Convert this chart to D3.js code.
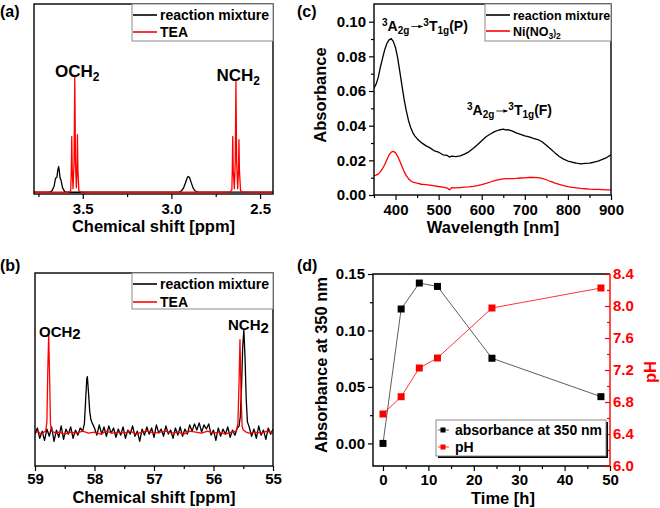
<!DOCTYPE html>
<meta charset="utf-8">
<style>
body { margin: 0; background: #fff; }
svg { font-family: "Liberation Sans", Arial, sans-serif; font-weight: bold; }
</style>
<body>
<svg width="660" height="508"></svg>
<script src="https://d3js.org/d3.v7.min.js"></script>
<script>

var svg = d3.select("svg");

// ---------------- data ----------------
// (a) 1H NMR, [ppm, intensity]
var hnmrTicks = [3.5, 3.0, 2.5];
var hnmrMinor = [3.75, 3.25, 2.75];
var hnmrMixture = [[3.775,0],[3.69,0],[3.675,0.01],[3.662,0.05],[3.655,0.11],[3.651,0.125],[3.646,0.13],[3.641,0.19],[3.636,0.223],[3.632,0.18],[3.628,0.125],[3.622,0.1],[3.614,0.04],[3.603,0.008],[3.59,0],
  [2.96,0],[2.945,0.01],[2.932,0.035],[2.921,0.08],[2.912,0.122],[2.905,0.137],[2.898,0.128],[2.889,0.088],[2.879,0.042],[2.868,0.013],[2.85,0.002],[2.427,0]];
var hnmrTEA = [[3.775,0],[3.6,0],[3.575,0.002],[3.568,0.012],[3.5645,0.2],[3.562,0.483],[3.5595,0.2],[3.555,0.03],[3.549,0.26],[3.545,1.0],[3.541,0.26],[3.536,0.04],[3.5325,0.2],[3.53,0.498],[3.5275,0.2],[3.522,0.012],[3.51,0.002],[3.45,0],
  [2.7,0],[2.668,0.003],[2.659,0.02],[2.6565,0.2],[2.654,0.483],[2.6515,0.2],[2.645,0.03],[2.64,0.26],[2.636,0.959],[2.632,0.26],[2.626,0.03],[2.6215,0.2],[2.619,0.455],[2.6165,0.2],[2.61,0.012],[2.598,0.002],[2.427,0]];

// (b) 13C NMR, [ppm, intensity]
var cnmrTicks = [59, 58, 57, 56, 55];
var cnmrMinor = [58.5, 57.5, 56.5, 55.5];
var cnmrMixture = [[59.00,-0.02],[58.96,0.04],[58.92,-0.06],[58.88,0.01],[58.84,-0.08],[58.80,0.03],[58.76,-0.04],[58.72,0.05],[58.68,-0.09],[58.64,0.02],[58.60,-0.05],[58.56,0.06],[58.52,-0.07],[58.48,0.03],[58.44,-0.02],[58.40,0.05],[58.36,-0.06],[58.32,0.02],[58.28,-0.03],[58.24,0.04],[58.20,0.01],[58.17,0.08],[58.15,0.30],[58.13,0.52],[58.12,0.54],[58.10,0.38],[58.08,0.20],[58.06,0.12],[58.04,0.09],[58.00,0.04],
  [57.96,-0.03],[57.92,0.07],[57.88,-0.02],[57.84,0.05],[57.80,-0.04],[57.76,0.06],[57.72,-0.01],[57.68,0.04],[57.64,-0.05],[57.60,0.03],[57.56,-0.03],[57.52,0.05],[57.48,-0.06],[57.44,0.02],[57.40,-0.02],[57.36,0.06],[57.32,-0.04],[57.28,0.01],[57.24,-0.09],[57.20,0.03],[57.16,-0.03],[57.12,0.05],[57.08,-0.02],[57.04,0.04],[57.00,-0.05],
  [56.96,0.07],[56.92,-0.01],[56.88,0.03],[56.84,-0.04],[56.80,0.06],[56.76,-0.02],[56.72,0.02],[56.68,-0.06],[56.64,0.04],[56.60,-0.03],[56.56,0.05],[56.52,-0.04],[56.48,0.03],[56.44,-0.02],[56.40,0.07],[56.36,0.01],[56.32,0.08],[56.28,0.02],[56.24,0.09],[56.20,0.00],[56.16,0.07],[56.12,0.03],[56.08,0.08],[56.04,-0.03],[56.00,0.02],
  [55.96,-0.08],[55.92,0.04],[55.88,-0.04],[55.84,0.03],[55.80,-0.02],[55.76,0.05],[55.72,-0.05],[55.68,0.02],[55.64,-0.03],[55.60,0.04],[55.57,0.06],[55.55,0.15],[55.53,0.42],[55.51,0.82],[55.49,1.00],[55.47,0.72],[55.45,0.32],[55.43,0.10],[55.40,0.05],[55.36,-0.04],[55.32,0.03],[55.28,-0.06],[55.24,0.06],[55.20,-0.03],[55.16,0.02],[55.12,-0.07],[55.08,0.04],[55.04,-0.02],[55.00,0.03]];
var cnmrTEA = [[59.00,-0.01],[58.95,0.01],[58.90,-0.02],[58.85,0.00],[58.82,0.01],[58.80,0.10],[58.785,0.60],[58.77,0.95],[58.755,0.55],[58.74,0.08],[58.72,0.01],[58.65,-0.01],[58.60,0.00],[58.50,-0.02],[58.40,0.00],[58.30,-0.01],[58.20,0.01],[58.10,-0.01],[58.00,0.00],[57.90,-0.02],[57.80,0.01],[57.70,-0.01],[57.60,0.00],[57.50,-0.01],[57.40,0.01],[57.30,-0.02],[57.20,0.00],[57.10,0.01],[57.00,-0.01],[56.90,0.00],[56.80,0.01],[56.70,-0.01],[56.60,0.00],[56.50,-0.02],[56.40,0.01],[56.30,0.00],[56.20,-0.01],[56.10,0.01],[56.00,-0.01],[55.90,0.00],[55.80,-0.02],[55.70,0.00],[55.62,0.01],[55.59,0.08],[55.57,0.50],[55.555,0.90],[55.54,0.45],[55.52,0.06],[55.50,0.02],[55.45,0.00],[55.40,-0.01],[55.30,0.00],[55.20,-0.01],[55.10,0.01],[55.00,-0.01]];

// (c) UV-vis, [nm, absorbance]
var uvTicksX = [400, 500, 600, 700, 800, 900];
var uvMinorX = [350, 450, 550, 650, 750, 850];
var uvTicksY = [0, 0.02, 0.04, 0.06, 0.08, 0.10];
var uvMinorY = [0.01, 0.03, 0.05, 0.07, 0.09];
var uvMixture = [[350,0.0616],[355,0.064],[360,0.068],[365,0.074],[370,0.079],[375,0.084],[380,0.0875],[385,0.0895],[390,0.0902],[395,0.0885],[400,0.085],[405,0.079],[410,0.071],[415,0.063],[420,0.055],[425,0.0485],[430,0.043],[435,0.039],[440,0.036],[445,0.034],[450,0.0325],[460,0.0302],[470,0.0285],[480,0.0272],[490,0.0255],[500,0.0247],[510,0.0232],[520,0.0228],[525,0.0219],[530,0.0224],[540,0.0221],[550,0.0226],[560,0.0236],[570,0.0249],[580,0.0268],[590,0.029],[600,0.0313],[610,0.0336],[620,0.0352],[630,0.0366],[640,0.0375],[650,0.0380],[655,0.0376],[660,0.0377],[670,0.037],[680,0.0358],[690,0.0350],[700,0.0341],[710,0.0335],[720,0.0327],[730,0.0320],[740,0.0307],[750,0.0287],[760,0.0265],[770,0.0243],[780,0.0222],[790,0.0207],[800,0.0196],[810,0.0189],[820,0.0184],[830,0.0180],[840,0.0182],[850,0.0184],[860,0.0189],[870,0.0196],[880,0.0205],[890,0.0216],[900,0.0232]];
var uvNickel = [[350,0.0112],[355,0.0115],[360,0.0122],[365,0.0135],[370,0.0153],[375,0.0176],[380,0.0205],[385,0.0231],[390,0.0248],[395,0.0252],[400,0.0243],[405,0.0222],[410,0.0195],[415,0.0165],[420,0.0135],[425,0.0112],[430,0.0094],[435,0.0082],[440,0.0075],[450,0.0068],[460,0.0062],[470,0.006],[480,0.0057],[490,0.0053],[500,0.0049],[510,0.0046],[520,0.0040],[525,0.0030],[530,0.0042],[540,0.0041],[550,0.0043],[560,0.0045],[570,0.0047],[580,0.0050],[590,0.0054],[600,0.006],[610,0.0067],[620,0.0075],[630,0.0083],[640,0.0089],[650,0.0093],[660,0.0094],[670,0.0095],[680,0.0096],[690,0.0098],[700,0.0099],[710,0.0101],[720,0.0101],[730,0.0100],[740,0.0096],[750,0.0088],[760,0.0078],[770,0.0069],[780,0.0061],[790,0.0054],[800,0.0048],[810,0.0044],[820,0.0041],[830,0.0038],[840,0.0036],[850,0.0034],[860,0.0033],[870,0.0032],[880,0.0031],[890,0.003],[900,0.003]];

// (d) kinetics
var timeH = [0, 4, 8, 12, 24, 48];
var abs350 = [0.000, 0.119, 0.142, 0.139, 0.0754, 0.0414];
var pHvalues = [6.65, 6.866, 7.225, 7.35, 7.975, 8.225];
var timeTicks = [0, 10, 20, 30, 40, 50];
var timeMinor = [5, 15, 25, 35, 45];
var absTicks = [0, 0.05, 0.10, 0.15];
var absMinor = [0.025, 0.075, 0.125];
var pHTicks = [6.0, 6.4, 6.8, 7.2, 7.6, 8.0, 8.4];
var pHMinor = [6.2, 6.6, 7.0, 7.4, 7.8, 8.2];

// ---------------- helpers ----------------
var boxA = {l: 34, t: 4, r: 273, b: 194},
    boxB = {l: 35, t: 273, r: 273, b: 466},
    boxC = {l: 374, t: 4, r: 611, b: 195},
    boxD = {l: 373, t: 274, r: 610, b: 466};

function styleAxis(g, color) {
  g.select(".domain").remove();
  g.attr("font-family", null).attr("font-size", null);
  g.selectAll(".tick line").attr("stroke", color).attr("stroke-width", 1.2);
  g.selectAll(".tick text").attr("fill", color).style("font-size", "15px").style("font-weight", "bold");
}

function xAxis(box, x, major, minor, fmt, pad) {
  var g1 = svg.append("g").attr("transform", "translate(0," + box.b + ")")
      .call(d3.axisBottom(x).tickValues(minor).tickSize(3).tickFormat(""));
  styleAxis(g1, "#000");
  var g2 = svg.append("g").attr("transform", "translate(0," + box.b + ")")
      .call(d3.axisBottom(x).tickValues(major).tickSize(5).tickPadding(pad).tickFormat(fmt));
  styleAxis(g2, "#000");
}

function yAxis(xpos, y, major, minor, fmt, right, color) {
  var mk = right ? d3.axisRight : d3.axisLeft;
  // right-hand axis keeps its ticks inside the frame
  var g1 = svg.append("g").attr("transform", "translate(" + xpos + ",0)")
      .call(mk(y).tickValues(minor).tickSize(right ? -3 : 3).tickFormat(""));
  styleAxis(g1, color);
  var g2 = svg.append("g").attr("transform", "translate(" + xpos + ",0)")
      .call(mk(y).tickValues(major).tickSize(right ? -5 : 5).tickPadding(3).tickFormat(fmt));
  styleAxis(g2, color);
}

function frame(box) {
  svg.append("rect")
    .attr("x", box.l).attr("y", box.t)
    .attr("width", box.r - box.l).attr("height", box.b - box.t)
    .attr("fill", "none").attr("stroke", "#000").attr("stroke-width", 1.4);
}

function clip(id, box) {
  svg.append("clipPath").attr("id", id).append("rect")
    .attr("x", box.l).attr("y", box.t).attr("width", box.r - box.l).attr("height", box.b - box.t);
}

function curve(data, x, y, color, w, clipId) {
  svg.append("path")
    .datum(data)
    .attr("clip-path", "url(#" + clipId + ")")
    .attr("fill", "none")
    .attr("stroke", color)
    .attr("stroke-width", w)
    .attr("stroke-linejoin", "round")
    .attr("d", d3.line().x(function(d) { return x(d[0]); }).y(function(d) { return y(d[1]); }));
}

function label(x, y, txt, size, anchor, rotate, color) {
  var t = svg.append("text")
    .attr("transform", "translate(" + x + "," + y + ")" + (rotate ? " rotate(" + rotate + ")" : ""))
    .attr("text-anchor", anchor || "start")
    .style("font-size", size + "px")
    .attr("fill", color || "#000")
    .text(txt);
  return t;
}

function lineLegend(x0, y0, w, h, rows, size, gap) {
  svg.append("rect").attr("x", x0).attr("y", y0).attr("width", w).attr("height", h)
    .attr("fill", "#fff").attr("stroke", "#8a8a8a").attr("stroke-width", 1);
  rows.forEach(function(r, i) {
    var yy = y0 + 11 + i * gap;
    svg.append("line").attr("x1", x0 + 1).attr("x2", x0 + 25).attr("y1", yy).attr("y2", yy)
      .attr("stroke", r.color).attr("stroke-width", 1.6);
    var t = svg.append("text").attr("x", x0 + 28).attr("y", yy + size * 0.36)
      .style("font-size", size + "px");
    r.parts.forEach(function(p) {
      var s = t.append("tspan").text(p[0]);
      if (p[1]) s.style("font-size", (size * 0.68) + "px").attr("dy", p[1]);
    });
  });
}

// ---------------- panel (a) ----------------
var xa = d3.scaleLinear().domain([3.775, 2.427]).range([boxA.l, boxA.r]);
var ya = d3.scaleLinear().domain([-0.015, 1.63]).range([boxA.b, boxA.t]);
clip("clipA", boxA);
curve(hnmrMixture, xa, ya, "#000", 1.3, "clipA");
curve(hnmrTEA, xa, ya, "#ff0000", 1.3, "clipA");
frame(boxA);
xAxis(boxA, xa, hnmrTicks, hnmrMinor, d3.format(".1f"), 4);
lineLegend(132, boxA.t, 141, 37, [
  {color: "#000", parts: [["reaction mixture"]]},
  {color: "#ff0000", parts: [["TEA"]]}], 14, 17);
var oa = label(55, 77, "OCH", 17);
oa.append("tspan").attr("dy", 4).style("font-size", "12px").text("2");
var na = label(216.5, 81, "NCH", 17);
na.append("tspan").attr("dy", 4).style("font-size", "12px").text("2");
label(153.5, 232, "Chemical shift [ppm]", 16.5, "middle");
label(0, 17, "(a)", 16);

// ---------------- panel (b) ----------------
var xb = d3.scaleLinear().domain([59, 55]).range([boxB.l, boxB.r]);
var yb = d3.scaleLinear().domain([-0.33, 1.55]).range([boxB.b, boxB.t]);
clip("clipB", boxB);
curve(cnmrMixture, xb, yb, "#000", 1.3, "clipB");
curve(cnmrTEA, xb, yb, "#ff0000", 1.3, "clipB");
frame(boxB);
xAxis(boxB, xb, cnmrTicks, cnmrMinor, d3.format("d"), 2);
lineLegend(132, boxB.t, 141, 36, [
  {color: "#000", parts: [["reaction mixture"]]},
  {color: "#ff0000", parts: [["TEA"]]}], 14, 18);
var ob = label(39, 336.5, "OCH", 15);
ob.append("tspan").attr("dy", 2.5).text("2");
var nb = label(228, 330, "NCH", 15);
nb.append("tspan").attr("dy", 2.5).text("2");
label(154, 503, "Chemical shift [ppm]", 16.5, "middle");
label(0, 271, "(b)", 16);

// ---------------- panel (c) ----------------
var xc = d3.scaleLinear().domain([350, 900]).range([boxC.l, boxC.r]);
var yc = d3.scaleLinear().domain([0, 0.1102]).range([boxC.b, boxC.t]);
clip("clipC", boxC);
curve(uvMixture, xc, yc, "#000", 1.3, "clipC");
curve(uvNickel, xc, yc, "#ff0000", 1.3, "clipC");
frame(boxC);
xAxis(boxC, xc, uvTicksX, uvMinorX, d3.format("d"), 4);
yAxis(boxC.l, yc, uvTicksY, uvMinorY, d3.format(".2f"), false, "#000");
lineLegend(485, boxC.t, 126, 37, [
  {color: "#000", parts: [["reaction mixture"]]},
  {color: "#ff0000", parts: [["Ni(NO"], ["3", 3], [")", -3], ["2", 3]]}], 12.5, 16);

svg.append("defs").append("marker")
  .attr("id", "arrowHead").attr("viewBox", "0 0 6 6").attr("refX", 5).attr("refY", 3)
  .attr("markerWidth", 6).attr("markerHeight", 6).attr("orient", "auto")
  .append("path").attr("d", "M0,0.8L6,3L0,5.2Z").attr("fill", "#000");

function transition(x0, base, state) {
  var t1 = svg.append("text").attr("x", x0).attr("y", base).style("font-size", "14px");
  t1.append("tspan").attr("dy", -5).style("font-size", "10px").text("3");
  t1.append("tspan").attr("dy", 5).text("A");
  t1.append("tspan").attr("dy", 3).style("font-size", "10px").text("2g");
  var w1 = t1.node().getComputedTextLength();
  var ax0 = x0 + w1 + 2, ax1 = ax0 + 11;
  svg.append("line").attr("x1", ax0).attr("x2", ax1).attr("y1", base - 4).attr("y2", base - 4)
    .attr("stroke", "#000").attr("stroke-width", 0.8).attr("marker-end", "url(#arrowHead)");
  var t2 = svg.append("text").attr("x", ax1 + 1).attr("y", base).style("font-size", "14px");
  t2.append("tspan").attr("dy", -5).style("font-size", "10px").text("3");
  t2.append("tspan").attr("dy", 5).text("T");
  t2.append("tspan").attr("dy", 3).style("font-size", "10px").text("1g");
  t2.append("tspan").attr("dy", -3).text("(" + state + ")");
}
transition(382, 30.5, "P");
transition(467, 115, "F");

label(326, 95, "Absorbance", 16.5, "middle", -90);
label(493, 233, "Wavelength [nm]", 16.5, "middle");
label(297, 17, "(c)", 16);

// ---------------- panel (d) ----------------
var xd = d3.scaleLinear().domain([-2.2, 50]).range([boxD.l, boxD.r]);
var yd = d3.scaleLinear().domain([-0.02, 0.15]).range([boxD.b, boxD.t]);
var yp = d3.scaleLinear().domain([6.0, 8.4]).range([boxD.b, boxD.t]);

var absPts = timeH.map(function(t, i) { return [t, abs350[i]]; });
var pHPts = timeH.map(function(t, i) { return [t, pHvalues[i]]; });

svg.append("path").datum(absPts).attr("fill", "none").attr("stroke", "#333").attr("stroke-width", 0.8)
  .attr("d", d3.line().x(function(d) { return xd(d[0]); }).y(function(d) { return yd(d[1]); }));
svg.append("path").datum(pHPts).attr("fill", "none").attr("stroke", "#ff0000").attr("stroke-width", 0.8)
  .attr("d", d3.line().x(function(d) { return xd(d[0]); }).y(function(d) { return yp(d[1]); }));
svg.selectAll(".absSq").data(absPts).enter().append("rect")
  .attr("x", function(d) { return xd(d[0]) - 3.5; }).attr("y", function(d) { return yd(d[1]) - 3.5; })
  .attr("width", 7).attr("height", 7).attr("fill", "#000");
svg.selectAll(".pHSq").data(pHPts).enter().append("rect")
  .attr("x", function(d) { return xd(d[0]) - 3.5; }).attr("y", function(d) { return yp(d[1]) - 3.5; })
  .attr("width", 7).attr("height", 7).attr("fill", "#ff0000");

// frame: black left/top/bottom, red right
svg.append("path").attr("d", "M" + boxD.r + "," + boxD.t + "H" + boxD.l + "V" + boxD.b + "H" + boxD.r)
  .attr("fill", "none").attr("stroke", "#000").attr("stroke-width", 1.4);
svg.append("line").attr("x1", boxD.r).attr("x2", boxD.r).attr("y1", boxD.t).attr("y2", boxD.b)
  .attr("stroke", "#ff0000").attr("stroke-width", 1.4);

xAxis(boxD, xd, timeTicks, timeMinor, d3.format("d"), 3);
yAxis(boxD.l, yd, absTicks, absMinor, d3.format(".2f"), false, "#000");
yAxis(boxD.r, yp, pHTicks, pHMinor, d3.format(".1f"), true, "#ff0000");

// legend with shadow
svg.append("rect").attr("x", 438).attr("y", 422).attr("width", 170).attr("height", 36).attr("fill", "#000");
svg.append("rect").attr("x", 436).attr("y", 420).attr("width", 170).attr("height", 36)
  .attr("fill", "#fff").attr("stroke", "#8a8a8a").attr("stroke-width", 1);
[["absorbance at 350 nm", "#000", "#333", 430], ["pH", "#ff0000", "#ff0000", 447]].forEach(function(r) {
  svg.append("line").attr("x1", 438).attr("x2", 449).attr("y1", r[3]).attr("y2", r[3])
    .attr("stroke", r[2]).attr("stroke-width", 0.8);
  svg.append("rect").attr("x", 440.5).attr("y", r[3] - 2.5).attr("width", 5).attr("height", 5).attr("fill", r[1]);
  svg.append("text").attr("x", 455).attr("y", r[3] + 5).style("font-size", "14px").text(r[0]);
});

label(327, 365, "Absorbance at 350 nm", 16.5, "middle", -90);
label(656, 372, "pH", 16.5, "middle", -90, "#ff0000");
label(503, 504, "Time [h]", 16.5, "middle");
label(297, 271, "(d)", 16);

</script>
</body>
